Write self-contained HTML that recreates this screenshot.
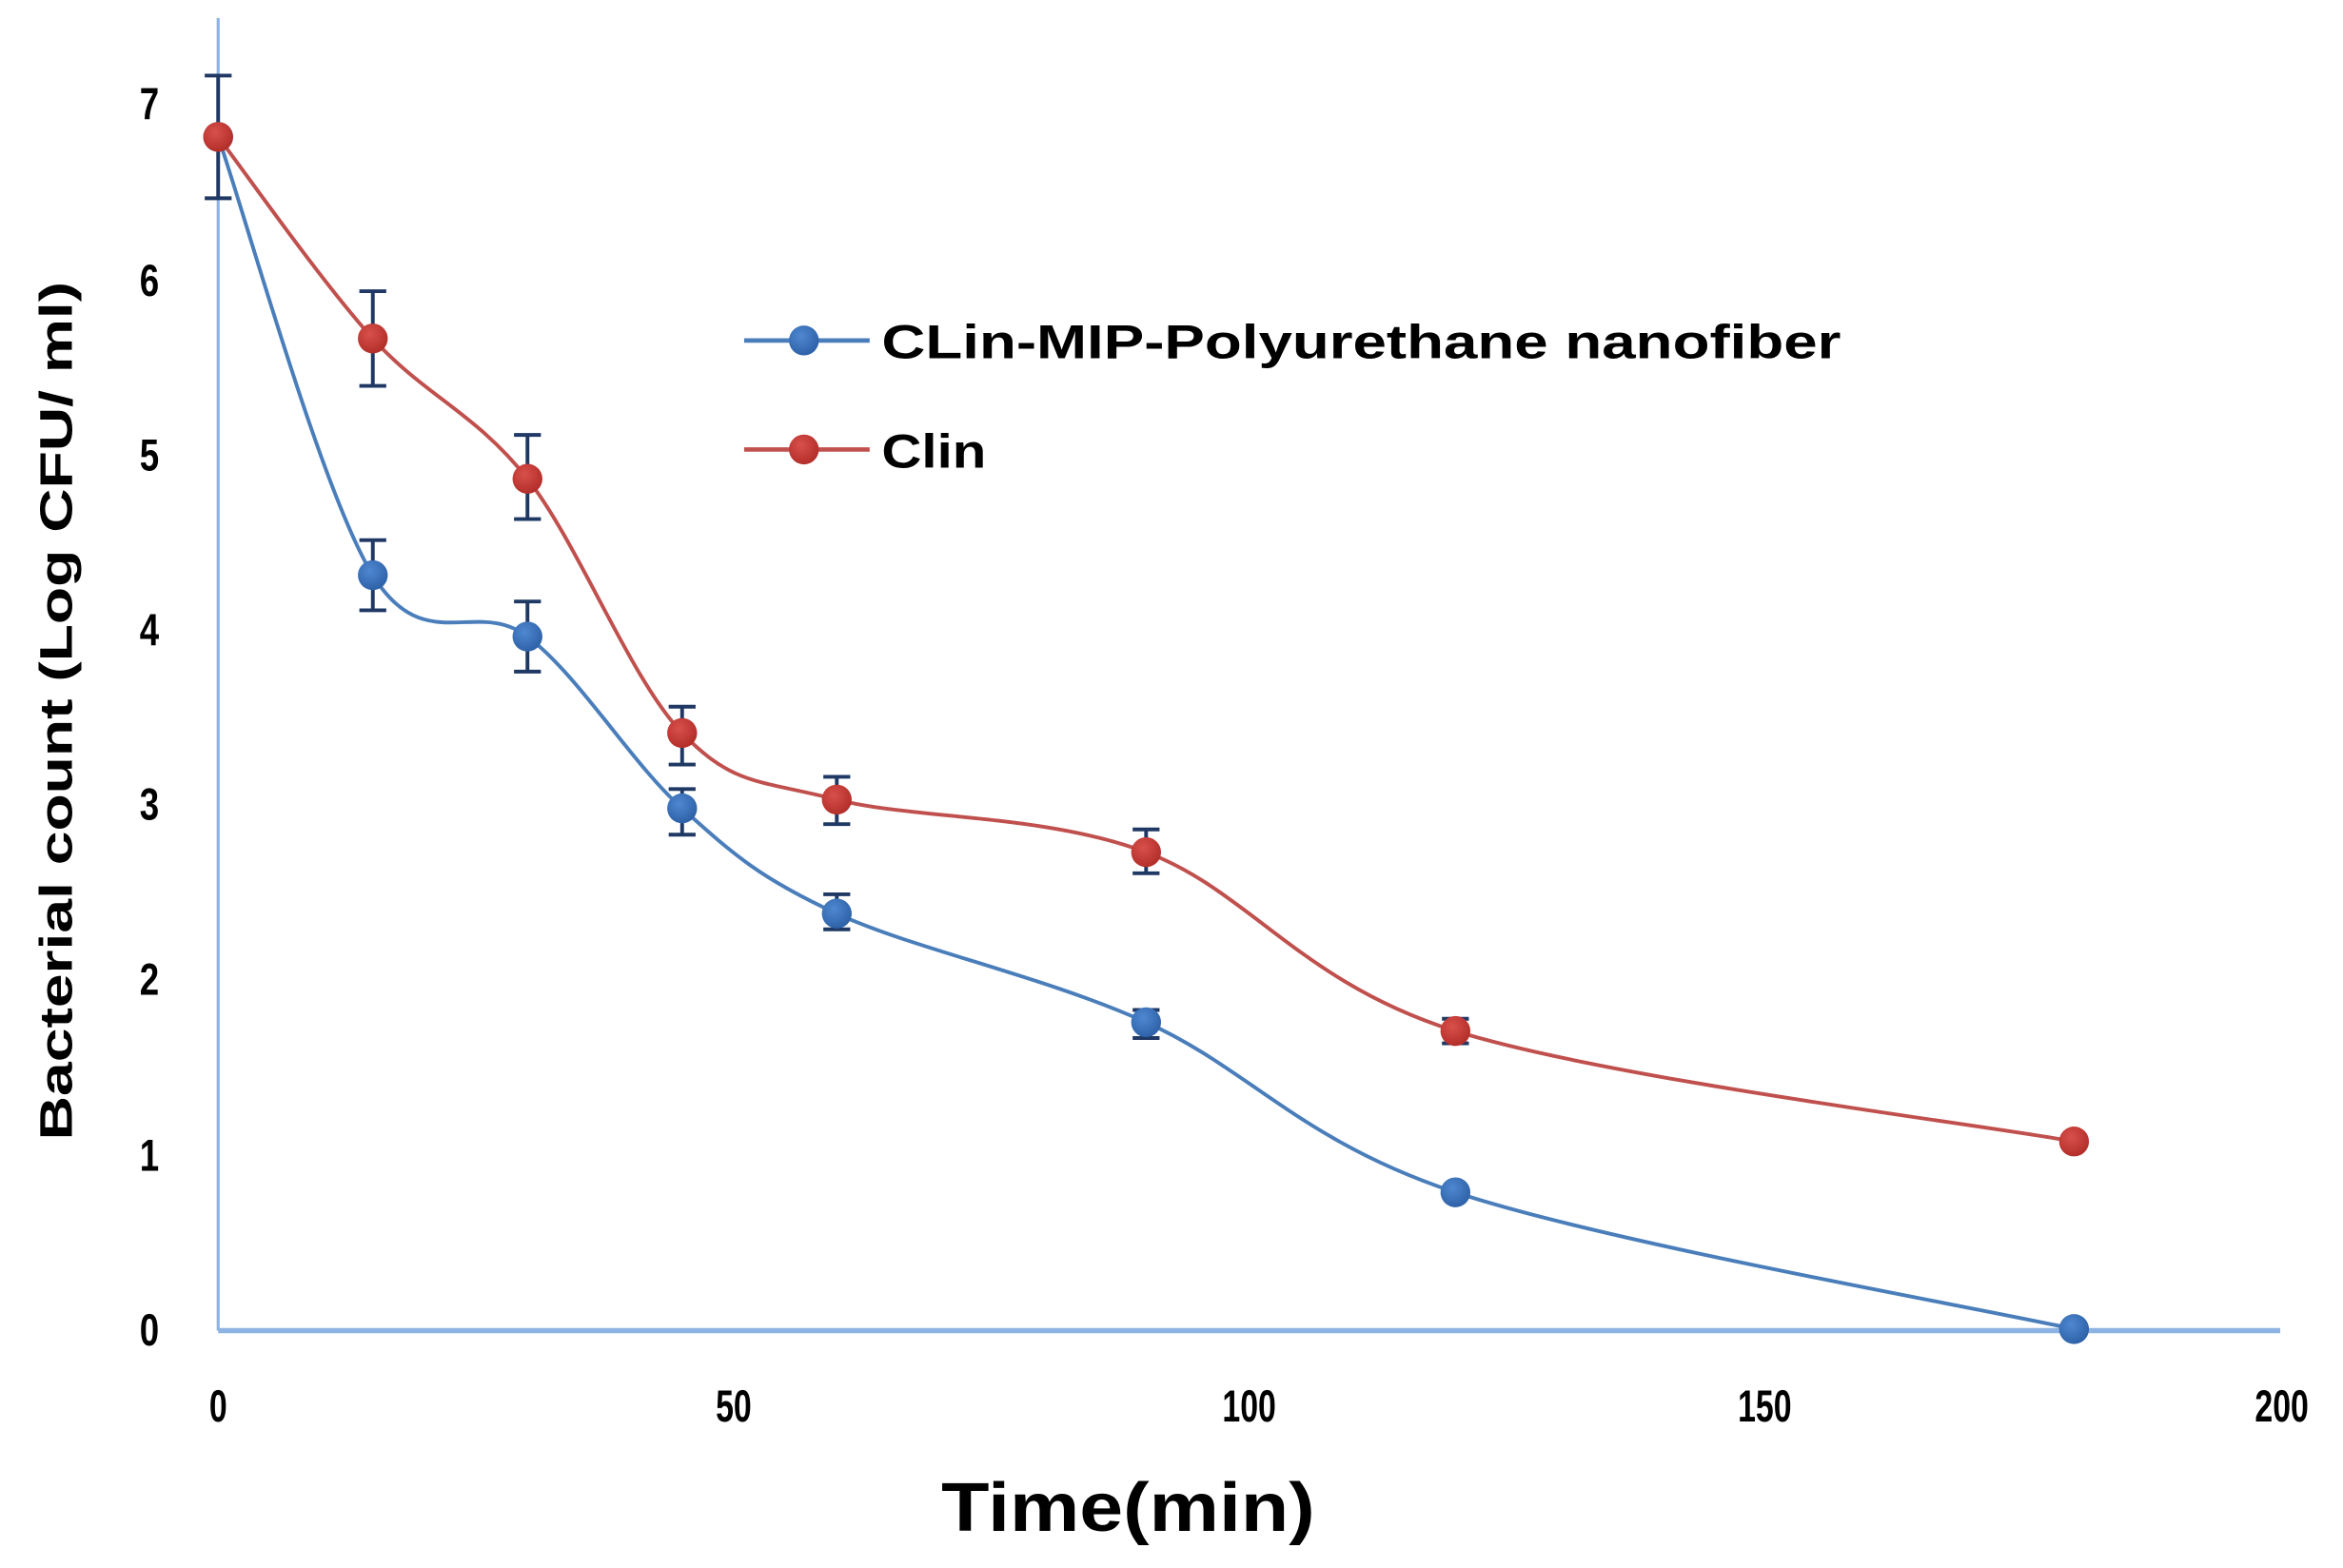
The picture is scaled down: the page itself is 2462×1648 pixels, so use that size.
<!DOCTYPE html>
<html><head><meta charset="utf-8"><style>
html,body{margin:0;padding:0;background:#fff;}
svg{display:block;}
text{font-family:"Liberation Sans",sans-serif;font-weight:bold;fill:#000;}
</style></head><body>
<svg id="s" width="2462" height="1648" viewBox="0 0 1568 1050" preserveAspectRatio="none" xmlns="http://www.w3.org/2000/svg">
<defs>
<radialGradient id="gr" cx="40%" cy="35%" r="65%"><stop offset="0" stop-color="#d9504a"/><stop offset="1" stop-color="#b32e2a"/></radialGradient>
<radialGradient id="gb" cx="40%" cy="35%" r="65%"><stop offset="0" stop-color="#4f88d0"/><stop offset="1" stop-color="#2e62a8"/></radialGradient>
</defs>
<line x1="146" y1="12" x2="146" y2="891" stroke="#8db3e2" stroke-width="2"/>
<line x1="146" y1="891" x2="1526" y2="891" stroke="#8db3e2" stroke-width="3.5"/>
<g id="g"></g>
<g font-size="30" text-anchor="middle">
<text x="146" y="952" textLength="12" lengthAdjust="spacingAndGlyphs">0</text>
<text x="491" y="952" textLength="24" lengthAdjust="spacingAndGlyphs">50</text>
<text x="836" y="952" textLength="36" lengthAdjust="spacingAndGlyphs">100</text>
<text x="1181" y="952" textLength="36" lengthAdjust="spacingAndGlyphs">150</text>
<text x="1527" y="952" textLength="36" lengthAdjust="spacingAndGlyphs">200</text>
</g>
<g font-size="30" text-anchor="middle">
<text x="100" y="901" textLength="13" lengthAdjust="spacingAndGlyphs">0</text>
<text x="100" y="784" textLength="13" lengthAdjust="spacingAndGlyphs">1</text>
<text x="100" y="666" textLength="13" lengthAdjust="spacingAndGlyphs">2</text>
<text x="100" y="549" textLength="13" lengthAdjust="spacingAndGlyphs">3</text>
<text x="100" y="432" textLength="13" lengthAdjust="spacingAndGlyphs">4</text>
<text x="100" y="315" textLength="13" lengthAdjust="spacingAndGlyphs">5</text>
<text x="100" y="198" textLength="13" lengthAdjust="spacingAndGlyphs">6</text>
<text x="100" y="80" textLength="13" lengthAdjust="spacingAndGlyphs">7</text>
</g>
<text x="755" y="1025" font-size="46" text-anchor="middle" textLength="250" lengthAdjust="spacingAndGlyphs">Time(min)</text>
<text transform="translate(48,476) rotate(-90)" font-size="31" text-anchor="middle" textLength="575" lengthAdjust="spacingAndGlyphs">Bacterial count (Log  CFU/ ml)</text>
<line x1="498" y1="228" x2="582" y2="228" stroke="#4a7ebb" stroke-width="3"/>
<circle cx="538" cy="228" r="10" fill="url(#gb)"/>
<text x="590" y="240" font-size="32" textLength="642" lengthAdjust="spacingAndGlyphs">CLin-MIP-Polyurethane nanofiber</text>
<line x1="498" y1="301" x2="582" y2="301" stroke="#c0504d" stroke-width="3"/>
<circle cx="538" cy="301" r="10" fill="url(#gr)"/>
<text x="590" y="313" font-size="32" textLength="70" lengthAdjust="spacingAndGlyphs">Clin</text>
</svg>
<script>
var X=function(t){return 146+t*6.9}, Y=function(v){return 890-v*117.4};
var ts=[0,15,30,45,60,90,120,180];
var blue=[6.8,4.3,3.95,2.97,2.37,1.75,0.78,0];
var red=[6.8,5.65,4.85,3.4,3.02,2.72,1.7,1.07];
var eb={b:[null,[4.5,4.1],[4.15,3.75],[3.08,2.82],[2.48,2.28],[1.82,1.66],null,null],
 r:[[7.15,6.45],[5.92,5.38],[5.1,4.62],[3.55,3.22],[3.15,2.88],[2.85,2.6],[1.77,1.63],null]};
function path(vs){var p=ts.map(function(t,i){return [X(t),Y(vs[i])]});var d="M"+p[0][0]+","+p[0][1];
for(var i=0;i<p.length-1;i++){var p0=p[i-1]||p[i],p1=p[i],p2=p[i+1],p3=p[i+2]||p2;var k=0.5/3;
d+=" C"+(p1[0]+(p2[0]-p0[0])*k)+","+(p1[1]+(p2[1]-p0[1])*k)+" "+(p2[0]-(p3[0]-p1[0])*k)+","+(p2[1]-(p3[1]-p1[1])*k)+" "+p2[0]+","+p2[1];}return d;}
var g=document.getElementById("g"),h="";
h+='<path d="'+path(blue)+'" fill="none" stroke="#4a7ebb" stroke-width="2.5"/>';
h+='<path d="'+path(red)+'" fill="none" stroke="#c0504d" stroke-width="2.5"/>';
["b","r"].forEach(function(k){eb[k].forEach(function(e,i){if(!e)return;var x=X(ts[i]);
h+='<path d="M'+x+','+Y(e[0])+'V'+Y(e[1])+'M'+(x-9)+','+Y(e[0])+'H'+(x+9)+'M'+(x-9)+','+Y(e[1])+'H'+(x+9)+'" stroke="#1f3864" stroke-width="2.5" fill="none"/>';});});
ts.forEach(function(t,i){h+='<circle cx="'+X(t)+'" cy="'+Y(blue[i])+'" r="10" fill="url(#gb)"/>';});
ts.forEach(function(t,i){h+='<circle cx="'+X(t)+'" cy="'+Y(red[i])+'" r="10" fill="url(#gr)"/>';});
g.innerHTML=h;
</script>
</body></html>
